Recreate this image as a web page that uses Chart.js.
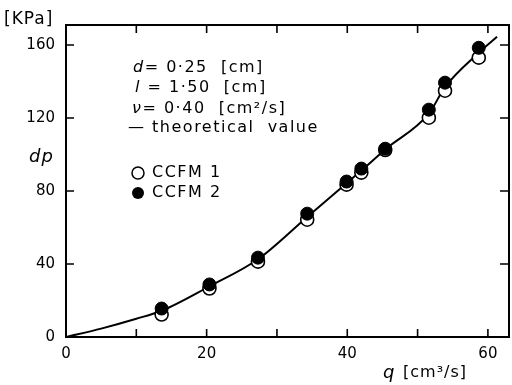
<!DOCTYPE html>
<html>
<head>
<meta charset="utf-8">
<script src="https://cdn.jsdelivr.net/npm/chart.js@4.4.1/dist/chart.umd.min.js"></script>
<style>
  html, body { margin: 0; padding: 0; background: #fff; }
  #wrap { width: 512px; height: 385px; }
</style>
</head>
<body>
<div id="wrap"><canvas id="pressure"></canvas></div>
<script>
const ctxPressure = document.getElementById("pressure");

// measured points (q in cm3/s, dp in KPa)
const flowQ = [13.6, 20.4, 27.3, 34.3, 39.9, 42.0, 45.4, 51.6, 53.9, 58.7];
const ccfm1 = [12.3, 26.6, 41.3, 64.3, 83.5, 90.1, 102.5, 120.2, 135.0, 153.1];
const ccfm2 = [15.6, 28.8, 43.5, 67.6, 85.2, 92.3, 103.2, 124.6, 139.4, 158.5];

// theoretical curve
const theoryQ = [0, 5, 10, 13.6, 20.4, 27.3, 34.3, 39.9, 42.0, 45.4, 51.6, 53.9, 58.7, 61.3];
const theoryDp = [0, 4.6, 10, 14.4, 27.8, 42.6, 65.8, 84.3, 91.2, 102.8, 122.4, 137.0, 155.8, 164.6];

const xTicks = [0, 10, 20, 30, 40, 50, 60];
const xLabels = [0, 20, 40, 60];
const yTicks = [0, 40, 80, 120, 160];

const toPoints = (xs, ys) => xs.map((x, i) => ({ x: x, y: ys[i] }));

const FONT = "'DejaVu Sans', sans-serif";

// frame, inward ticks, notes and legend
const paperPlugin = {
    id: "paper",
    afterDraw(chart) {
        const c = chart.ctx;
        const a = chart.chartArea;
        const sx = chart.scales.x;
        const sy = chart.scales.y;
        c.save();
        c.strokeStyle = "#000";
        c.lineWidth = 2;
        c.strokeRect(a.left, a.top, a.right - a.left, a.bottom - a.top);
        c.lineWidth = 1.6;
        c.beginPath();
        xTicks.forEach(v => {
            const px = sx.getPixelForValue(v);
            c.moveTo(px, a.bottom); c.lineTo(px, a.bottom - 8);
            c.moveTo(px, a.top); c.lineTo(px, a.top + 8);
        });
        yTicks.forEach(v => {
            const py = sy.getPixelForValue(v);
            c.moveTo(a.left, py); c.lineTo(a.left + 8, py);
            c.moveTo(a.right, py); c.lineTo(a.right - 9, py);
        });
        c.stroke();

        c.fillStyle = "#000";
        c.textBaseline = "middle";
        c.textAlign = "left";
        c.letterSpacing = "1.5px";

        const drawLine = (x, y, italic, rest) => {
            c.font = "italic 16px " + FONT;
            c.fillText(italic, x, y);
            const w = c.measureText(italic).width;
            c.font = "16px " + FONT;
            c.fillText(rest, x + w, y);
        };
        drawLine(133, 68, "d", "= 0·25  [cm]");
        drawLine(135, 88, "l", " = 1·50  [cm]");
        drawLine(132, 109, "ν", "= 0·40  [cm²/s]");
        c.font = "16px " + FONT;
        c.fillText("— theoretical  value", 128, 128);

        // legend
        c.lineWidth = 1.5;
        c.beginPath();
        c.arc(138, 173, 6, 0, Math.PI * 2);
        c.stroke();
        c.beginPath();
        c.arc(138, 193, 6, 0, Math.PI * 2);
        c.fill();
        c.fillText("CCFM 1", 152, 173);
        c.fillText("CCFM 2", 152, 193);

        // axis titles
        c.letterSpacing = "1px";
        c.font = "17px " + FONT;
        c.fillText("[KPa]", 4, 20);
        c.font = "italic 18px " + FONT;
        c.fillText("dp", 29, 157);
        c.fillText("q", 383, 373);
        c.font = "16px " + FONT;
        c.fillText("[cm³/s]", 403, 373);
        c.restore();
    }
};

const graphPressure = new Chart(ctxPressure, {
    type: "scatter",
    data: {
        datasets: [{
            label: "CCFM 2",
            data: toPoints(flowQ, ccfm2),
            pointRadius: 6.5,
            pointBackgroundColor: "#000",
            pointBorderColor: "#000",
            pointBorderWidth: 1,
            order: 0
        }, {
            label: "CCFM 1",
            data: toPoints(flowQ, ccfm1),
            pointRadius: 6.5,
            pointBackgroundColor: "#fff",
            pointBorderColor: "#000",
            pointBorderWidth: 1.6,
            order: 1
        }, {
            label: "theoretical value",
            data: toPoints(theoryQ, theoryDp),
            showLine: true,
            pointRadius: 0,
            borderColor: "#000",
            borderWidth: 2,
            cubicInterpolationMode: "monotone",
            order: 2
        }]
    },
    options: {
        responsive: true,
        maintainAspectRatio: false,
        animation: false,
        layout: {
            autoPadding: false,
            padding: { left: 0, right: 3, top: 25, bottom: 0 }
        },
        plugins: {
            legend: { display: false },
            tooltip: { enabled: false }
        },
        scales: {
            x: {
                type: "linear",
                min: 0,
                max: 63,
                grid: { display: false, drawTicks: false },
                border: { display: false },
                afterFit: (scale) => { scale.height = 48; },
                afterBuildTicks: (scale) => {
                    scale.ticks = xLabels.map(v => ({ value: v }));
                },
                ticks: {
                    color: "#000",
                    padding: 8,
                    font: { family: FONT, size: 15 }
                }
            },
            y: {
                type: "linear",
                min: 0,
                max: 171,
                grid: { display: false, drawTicks: false },
                border: { display: false },
                afterFit: (scale) => { scale.width = 66; },
                afterBuildTicks: (scale) => {
                    scale.ticks = yTicks.map(v => ({ value: v }));
                },
                ticks: {
                    color: "#000",
                    padding: 11,
                    font: { family: FONT, size: 15 }
                }
            }
        }
    },
    plugins: [paperPlugin]
});
</script>
</body>
</html>
